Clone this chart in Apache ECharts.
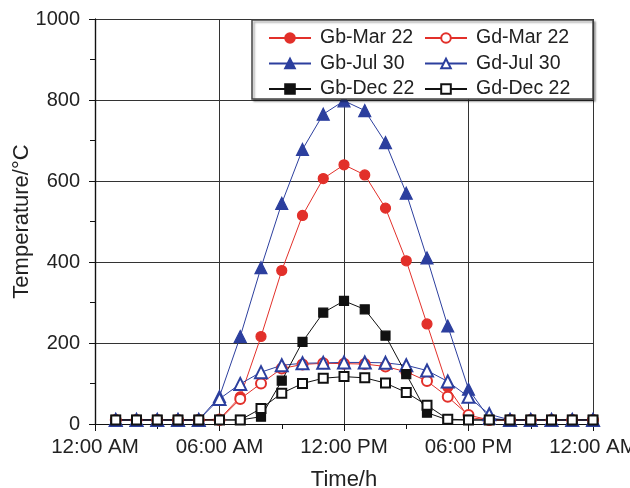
<!DOCTYPE html>
<html>
<head>
<meta charset="utf-8">
<script src="https://cdn.jsdelivr.net/npm/echarts@6/dist/echarts.min.js"></script>
<style>
  html, body { margin: 0; padding: 0; background: #fff; }
  #chart { width: 630px; height: 488px; }
</style>
</head>
<body>
<div id="chart"></div>
<script>
const hours = [1, 2, 3, 4, 5, 6, 7, 8, 9, 10, 11, 12, 13, 14, 15, 16, 17, 18, 19, 20, 21, 22, 23, 24];
const gbMar = [10, 10, 10, 10, 10, 12, 67, 216, 379, 515, 606, 640, 615, 533, 403, 247, 91, 16, 10, 10, 10, 10, 10, 10];
const gdMar = [10, 10, 10, 10, 10, 10, 62, 100, 137, 147, 150, 149, 148, 142, 129, 106, 67, 22, 10, 10, 10, 10, 10, 10];
const gbJul = [10, 10, 10, 10, 10, 68, 216, 386, 545, 678, 765, 798, 774, 695, 570, 410, 242, 86, 14, 10, 10, 10, 10, 10];
const gdJul = [10, 10, 10, 10, 10, 62, 99, 128, 145, 150, 151, 152, 152, 151, 145, 132, 105, 67, 24, 10, 10, 10, 10, 10];
const gbDec = [10, 10, 10, 10, 10, 10, 10, 18, 107, 203, 275, 304, 283, 218, 123, 28, 10, 10, 10, 10, 10, 10, 10, 10];
const gdDec = [10, 10, 10, 10, 10, 10, 10, 38, 76, 100, 113, 117, 114, 101, 78, 46, 12, 10, 10, 10, 10, 10, 10, 10];
const xTickLabels = ["12:00 AM", "06:00 AM", "12:00 PM", "06:00 PM", "12:00 AM"];

const RED = "#e2302a";
const BLUE = "#2c3f9e";
const BLACK = "#111";
const FONT = "Liberation Sans";

const pairs = (vals) => hours.map((h, i) => [h, vals[i]]);

const mkSeries = (name, vals, color, symbol, size) => ({
  name,
  type: "line",
  data: pairs(vals),
  symbol,
  symbolSize: size,
  showSymbol: true,
  lineStyle: { color, width: 1 },
  itemStyle: { color, borderColor: color, borderWidth: 1.2 },
  emphasis: { disabled: true },
  z: 3
});

const chart = echarts.init(document.getElementById("chart"));

const legendText = { fontFamily: FONT, fontSize: 19.5, color: "#222", padding: [0, 0, 0, 4] };

const option = {
  animation: false,
  textStyle: { fontFamily: FONT },
  grid: { left: 95, right: 37, top: 19, bottom: 64, outerBoundsMode: "none" },
  legend: [
    {
      orient: "vertical",
      left: 268,
      top: 28,
      padding: 0,
      itemWidth: 42,
      itemHeight: 12,
      itemGap: 5.5,
      z: 12,
      data: ["Gb-Mar 22", "Gb-Jul 30", "Gb-Dec 22"],
      textStyle: legendText
    },
    {
      orient: "vertical",
      left: 424,
      top: 28,
      padding: 0,
      itemWidth: 42,
      itemHeight: 12,
      itemGap: 5.5,
      z: 12,
      data: ["Gd-Mar 22", "Gd-Jul 30", "Gd-Dec 22"],
      textStyle: legendText
    }
  ],
  graphic: [
    {
      type: "rect",
      z: 10,
      shape: { x: 252, y: 20, width: 341, height: 79 },
      style: {
        fill: "#fff",
        stroke: "#444",
        lineWidth: 1.5,
        shadowColor: "rgba(0,0,0,0.35)",
        shadowOffsetX: 2,
        shadowOffsetY: 2,
        shadowBlur: 2
      }
    }
  ],
  xAxis: [
    {
      type: "value",
      min: 0,
      max: 24,
      interval: 6,
      name: "Time/h",
      nameLocation: "middle",
      nameGap: 45,
      nameMoveOverlap: false,
      nameTextStyle: { fontFamily: FONT, fontSize: 22, color: "#222" },
      axisLine: { lineStyle: { color: "#111", width: 1.2 } },
      axisTick: { show: true, length: 7, lineStyle: { color: "#111" } },
      minorTick: { show: true, splitNumber: 2, length: 5, lineStyle: { color: "#111" } },
      axisLabel: {
        fontFamily: FONT,
        fontSize: 20.5,
        color: "#222",
        margin: 13,
        formatter: (v) => xTickLabels[v / 6]
      },
      splitLine: { show: true, lineStyle: { color: "#333", width: 1 } }
    },
    {
      type: "value",
      position: "top",
      min: 0,
      max: 24,
      interval: 6,
      axisLine: { show: true, lineStyle: { color: "#111", width: 1.2 } },
      axisTick: { show: true, inside: true, length: 6, lineStyle: { color: "#111" } },
      minorTick: { show: true, splitNumber: 2, length: 4, lineStyle: { color: "#111" } },
      axisLabel: { show: false },
      splitLine: { show: false }
    }
  ],
  yAxis: [
    {
      type: "value",
      min: 0,
      max: 1000,
      interval: 200,
      name: "Temperature/\u00B0C",
      nameLocation: "middle",
      nameGap: 62,
      nameMoveOverlap: false,
      nameTextStyle: { fontFamily: FONT, fontSize: 22, color: "#222" },
      axisLine: { show: true, lineStyle: { color: "#111", width: 1.2 } },
      axisTick: { show: true, length: 6, lineStyle: { color: "#111" } },
      minorTick: { show: true, splitNumber: 2, length: 4, lineStyle: { color: "#111" } },
      axisLabel: { fontFamily: FONT, fontSize: 20, color: "#222", margin: 15, formatter: (v) => String(v) },
      splitLine: { show: true, lineStyle: { color: "#333", width: 1 } }
    },
    {
      type: "value",
      position: "right",
      min: 0,
      max: 1000,
      interval: 200,
      axisLine: { show: true, lineStyle: { color: "#111", width: 1.2 } },
      axisTick: { show: true, inside: true, length: 6, lineStyle: { color: "#111" } },
      minorTick: { show: true, splitNumber: 2, length: 5, lineStyle: { color: "#111" } },
      axisLabel: { show: false },
      splitLine: { show: false }
    }
  ],
  series: [
    mkSeries("Gb-Mar 22", gbMar, RED, "circle", 10),
    mkSeries("Gd-Mar 22", gdMar, RED, "emptyCircle", 10),
    mkSeries("Gb-Jul 30", gbJul, BLUE, "triangle", 12),
    mkSeries("Gd-Jul 30", gdJul, BLUE, "emptyTriangle", 12),
    mkSeries("Gb-Dec 22", gbDec, BLACK, "rect", 9),
    mkSeries("Gd-Dec 22", gdDec, BLACK, "emptyRect", 9)
  ]
};

chart.setOption(option);
</script>
</body>
</html>
